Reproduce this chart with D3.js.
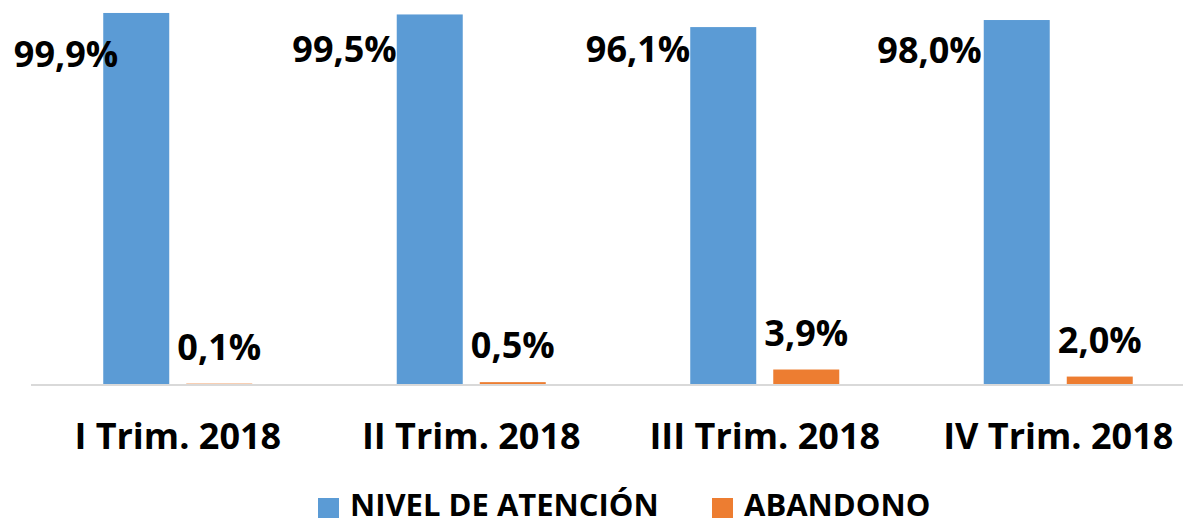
<!DOCTYPE html>
<html>
<head>
<meta charset="utf-8">
<script src="https://cdn.jsdelivr.net/npm/d3@7"></script>
<style>
  body { margin: 0; background: #fff; }
  svg text { font-family: "Open Sans", sans-serif; font-weight: 700; fill: #000; }
</style>
</head>
<body>
<div id="chart"></div>
<script>
// data
const categories = ["I Trim. 2018", "II Trim. 2018", "III Trim. 2018", "IV Trim. 2018"];
const seriesNames = ["NIVEL DE ATENCIÓN", "ABANDONO"];
const atencion = [99.9, 99.5, 96.1, 98.0];
const abandono = [0.1, 0.5, 3.9, 2.0];
const colors = ["#5B9BD5", "#ED7D31"];

const W = 1183, H = 525;
const fmt = v => v.toFixed(1).replace(".", ",") + "%";

const svg = d3.select("#chart").append("svg")
    .attr("width", W)
    .attr("height", H);

// scales
const x0 = d3.scaleBand()
    .domain(categories)
    .range([31, 1205])
    .paddingInner(0.4923)
    .paddingOuter(0.24615);

const x1 = d3.scaleBand()
    .domain([0, 1])
    .range([0, x0.bandwidth()])
    .paddingInner(0.205);

const y = d3.scaleLinear()
    .domain([0, 100])
    .range([384, 12.6]);

const rows = categories.map((c, i) => ({ cat: c, vals: [atencion[i], abandono[i]] }));

// bars
const groups = svg.selectAll(".grp")
    .data(rows)
    .enter().append("g")
    .attr("class", "grp")
    .attr("transform", d => `translate(${x0(d.cat)},0)`);

groups.selectAll("rect")
    .data(d => d.vals.map((v, k) => ({ k, v })))
    .enter().append("rect")
    .attr("x", d => x1(d.k))
    .attr("y", d => y(d.v))
    .attr("width", x1.bandwidth())
    .attr("height", d => y(0) - y(d.v))
    .attr("fill", d => colors[d.k]);

// baseline
svg.append("line")
    .attr("x1", 31).attr("x2", W)
    .attr("y1", y(0) + 1).attr("y2", y(0) + 1)
    .attr("stroke", "#D9D9D9")
    .attr("stroke-width", 2);

// blue labels (moved by hand to the left of the bars in the original)
const blueNudge = [[15, 4], [0, -1], [0, -1], [-2, 0]];
groups.append("text")
    .attr("text-anchor", "end")
    .attr("font-size", 36)
    .attr("x", (d, i) => x1(0) + blueNudge[i][0])
    .attr("y", (d, i) => 63 + blueNudge[i][1])
    .text(d => fmt(d.vals[0]));

// orange labels above the bars
groups.append("text")
    .attr("text-anchor", "middle")
    .attr("font-size", 36)
    .attr("x", x1(1) + x1.bandwidth() / 2)
    .attr("y", d => y(d.vals[1]) - 24)
    .text(d => fmt(d.vals[1]));

// category axis labels
svg.append("g")
    .attr("transform", `translate(0,${y(0)})`)
    .call(d3.axisBottom(x0).tickSize(0).tickPadding(0))
    .call(g => g.select(".domain").remove())
    .selectAll("text")
    .attr("font-size", 36)
    .attr("font-family", "Open Sans, sans-serif")
    .attr("font-weight", 700)
    .attr("fill", "#000")
    .attr("dy", null)
    .attr("y", 65);

// legend
const legendX = [318, 712];
const legend = svg.selectAll(".leg")
    .data(seriesNames)
    .enter().append("g")
    .attr("class", "leg")
    .attr("transform", (d, i) => `translate(${legendX[i]},498)`);

legend.append("rect")
    .attr("width", 21).attr("height", 20)
    .attr("fill", (d, i) => colors[i]);

legend.append("text")
    .attr("x", 32)
    .attr("y", 18)
    .attr("font-size", 31)
    .text(d => d);
</script>
</body>
</html>
